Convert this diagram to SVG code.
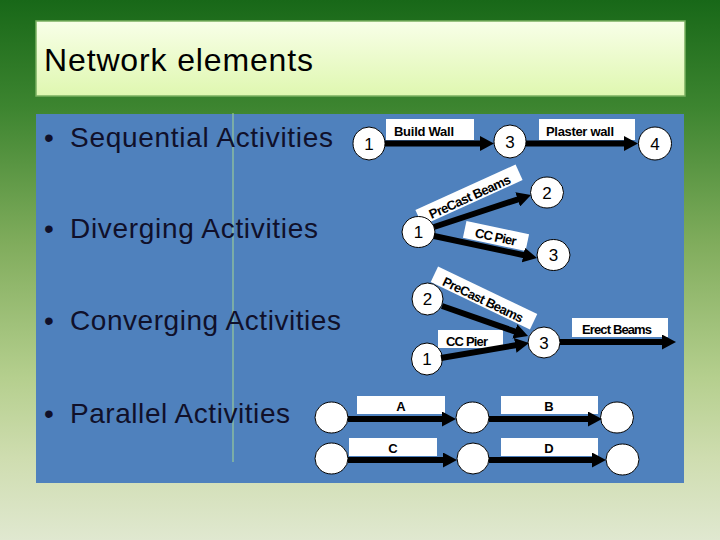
<svg xmlns="http://www.w3.org/2000/svg" width="720" height="540" viewBox="0 0 720 540">
<defs>
<linearGradient id="bg" x1="0" y1="0" x2="0" y2="1">
<stop offset="0" stop-color="#186818"/>
<stop offset="0.2" stop-color="#3d8530"/>
<stop offset="0.45" stop-color="#80ac5c"/>
<stop offset="0.7" stop-color="#b5cf8e"/>
<stop offset="0.85" stop-color="#cfddb0"/>
<stop offset="1" stop-color="#e0e8d0"/>
</linearGradient>
<linearGradient id="tb" x1="0" y1="0" x2="0" y2="1">
<stop offset="0" stop-color="#f8ffe8"/>
<stop offset="1" stop-color="#dff7b0"/>
</linearGradient>
<marker id="ah" markerUnits="userSpaceOnUse" markerWidth="14" markerHeight="15" viewBox="0 0 14 15" refX="2" refY="7.5" orient="auto">
<path d="M0,0 L14,7.5 L0,15 z" fill="#000"/>
</marker>
<style>
.body{font-family:"Liberation Sans",Arial,sans-serif;font-size:28px;fill:#10102a}
.lbl{font-family:"Liberation Sans",Arial,sans-serif;font-size:13px;font-weight:bold;fill:#000}
.num{font-family:"Liberation Sans",Arial,sans-serif;font-size:17px;fill:#000;text-anchor:middle}
.box{fill:#fff}
.node{fill:#fff;stroke:#000;stroke-width:1}
.con{stroke:#000;stroke-width:6;fill:none;marker-end:url(#ah)}
</style>
</defs>
<rect width="720" height="540" fill="url(#bg)"/>
<rect x="36" y="21" width="649" height="75" fill="url(#tb)" stroke="#7ab060" stroke-width="1.5"/>
<text x="44" y="71" font-family="Liberation Sans,Arial,sans-serif" font-size="32" fill="#000" textLength="269">Network elements</text>
<rect x="36" y="114" width="648" height="369" fill="#4f81bd"/>
<line x1="233" y1="113" x2="233" y2="462" stroke="#a8d890" stroke-width="1"/>
<g id="bullets">
<text class="body" x="44" y="147">•</text>
<text class="body" x="70" y="147" textLength="263">Sequential Activities</text>
<text class="body" x="44" y="238">•</text>
<text class="body" x="70" y="238" textLength="248">Diverging Activities</text>
<text class="body" x="44" y="330">•</text>
<text class="body" x="70" y="330" textLength="271">Converging Activities</text>
<text class="body" x="44" y="423">•</text>
<text class="body" x="70" y="423" textLength="220">Parallel Activities</text>
</g>
<g id="labels">
<rect class="box" x="386" y="119" width="88" height="21"/>
<text class="lbl" x="394" y="136" textLength="60">Build Wall</text>
<rect class="box" x="539" y="119" width="96" height="21"/>
<text class="lbl" x="546" y="136" textLength="68">Plaster wall</text>
<g transform="translate(469,195) rotate(-24.4)">
<rect class="box" x="-55" y="-8.5" width="110" height="17"/>
<text class="lbl" x="0" y="6.5" text-anchor="middle" textLength="88">PreCast Beams</text>
</g>
<g transform="translate(496,236) rotate(12)">
<rect class="box" x="-32" y="-8.5" width="64" height="17"/>
<text class="lbl" x="0" y="5.5" text-anchor="middle" textLength="42">CC Pier</text>
</g>
<g transform="translate(484,298) rotate(25.6)">
<rect class="box" x="-55" y="-8.5" width="110" height="17"/>
<text class="lbl" x="0" y="6.5" text-anchor="middle" textLength="88">PreCast Beams</text>
</g>
<rect class="box" x="438" y="330" width="65" height="18"/>
<text class="lbl" x="446" y="346" textLength="42">CC Pier</text>
<rect class="box" x="572" y="318" width="96" height="19"/>
<text class="lbl" x="582" y="334" textLength="70">Erect Beams</text>
<rect class="box" x="357" y="396" width="88" height="18"/>
<text class="lbl" x="401" y="411" text-anchor="middle">A</text>
<rect class="box" x="501" y="396" width="97" height="18"/>
<text class="lbl" x="549" y="411" text-anchor="middle">B</text>
<rect class="box" x="349" y="438" width="88" height="18"/>
<text class="lbl" x="393" y="453" text-anchor="middle">C</text>
<rect class="box" x="501" y="438" width="97" height="18"/>
<text class="lbl" x="549" y="453" text-anchor="middle">D</text>
</g>
<g id="n-s1"><ellipse class="node" cx="369" cy="143.5" rx="16" ry="16.5"/><text class="num" x="369" y="150">1</text></g>
<g id="n-s3"><ellipse class="node" cx="510" cy="141.5" rx="16" ry="16.5"/><text class="num" x="510" y="148">3</text></g>
<g id="n-s4"><ellipse class="node" cx="655" cy="143.5" rx="16.5" ry="16.5"/><text class="num" x="655" y="150">4</text></g>
<g id="n-d1"><ellipse class="node" cx="418.5" cy="232" rx="16.5" ry="15.5"/><text class="num" x="418.5" y="238">1</text></g>
<g id="n-d2"><ellipse class="node" cx="547" cy="192.5" rx="16.5" ry="15.5"/><text class="num" x="547" y="199">2</text></g>
<g id="n-d3"><ellipse class="node" cx="553.5" cy="255" rx="16.5" ry="15.5"/><text class="num" x="553.5" y="261">3</text></g>
<g id="n-c2"><ellipse class="node" cx="427.5" cy="299" rx="15.5" ry="16"/><text class="num" x="427.5" y="305">2</text></g>
<g id="n-c1"><ellipse class="node" cx="427" cy="359" rx="15.5" ry="16"/><text class="num" x="427" y="365">1</text></g>
<g id="n-c3"><ellipse class="node" cx="544" cy="342.5" rx="16" ry="15.5"/><text class="num" x="544" y="349">3</text></g>
<g id="n-p1"><ellipse class="node" cx="331.5" cy="417.5" rx="16.5" ry="15.5"/></g>
<g id="n-p2"><ellipse class="node" cx="472.5" cy="417.5" rx="16.5" ry="15.5"/></g>
<g id="n-p3"><ellipse class="node" cx="617" cy="417.5" rx="16.5" ry="15.5"/></g>
<g id="n-p4"><ellipse class="node" cx="331.5" cy="458.5" rx="16.5" ry="15.5"/></g>
<g id="n-p5"><ellipse class="node" cx="473" cy="458.5" rx="16" ry="15.5"/></g>
<g id="n-p6"><ellipse class="node" cx="622.5" cy="459.5" rx="16.5" ry="15.5"/></g>
<g id="connectors">
<line class="con" x1="385" y1="143.5" x2="482" y2="143.5"/>
<line class="con" x1="526" y1="143.5" x2="626" y2="143.5"/>
<line class="con" x1="434" y1="227" x2="519.6" y2="198.8"/>
<line class="con" x1="434" y1="236" x2="525.3" y2="255.5"/>
<line class="con" x1="442" y1="306" x2="516.7" y2="332.1"/>
<line class="con" x1="441" y1="358" x2="517.2" y2="345"/>
<line class="con" x1="560" y1="342" x2="664" y2="342"/>
<line class="con" x1="348" y1="419" x2="444" y2="419"/>
<line class="con" x1="489" y1="419" x2="590" y2="419"/>
<line class="con" x1="348" y1="460" x2="445" y2="460"/>
<line class="con" x1="489" y1="460" x2="594" y2="460"/>
</g>
</svg>
